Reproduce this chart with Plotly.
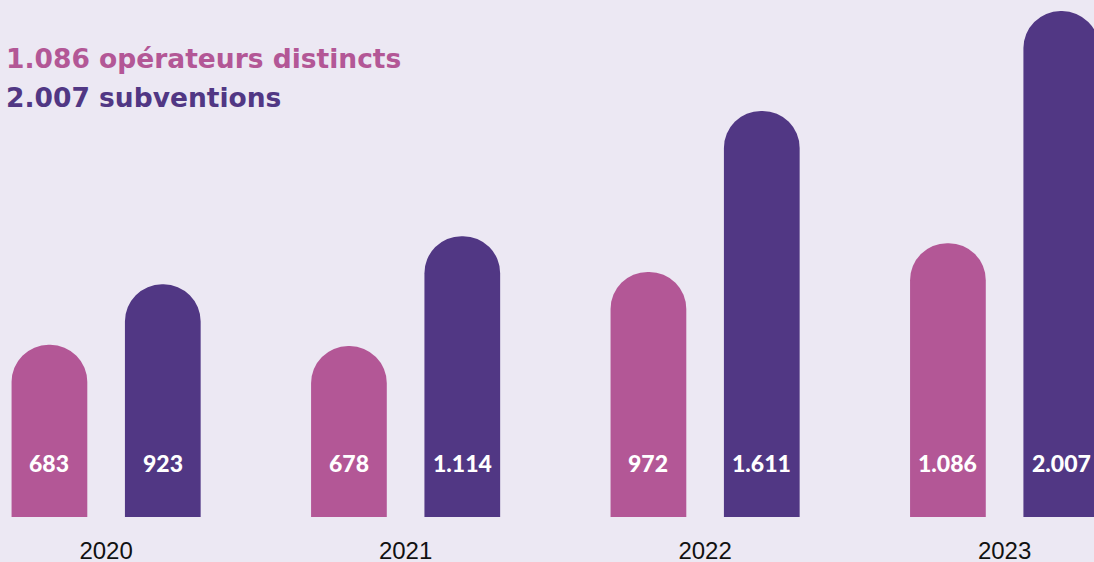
import plotly.graph_objects as go

years = ["2020", "2021", "2022", "2023"]
operateurs = [683, 678, 972, 1086]
subventions = [923, 1114, 1611, 2007]
operateurs_labels = ["683", "678", "972", "1.086"]
subventions_labels = ["923", "1.114", "1.611", "2.007"]
title_line1 = "1.086 opérateurs distincts"
title_line2 = "2.007 subventions"

PINK = "#B35796"
PURPLE = "#513784"
BG = "#ECE8F3"

fig = go.Figure()
fig.add_trace(go.Bar(x=years, y=operateurs, name="opérateurs",
                     marker=dict(color=PINK, line=dict(width=0), cornerradius="50%"),
                     hoverinfo="skip"))
fig.add_trace(go.Bar(x=years, y=subventions, name="subventions",
                     marker=dict(color=PURPLE, line=dict(width=0), cornerradius="50%"),
                     hoverinfo="skip"))

label_font = dict(family="Lato", size=23, color="white", weight=900)
annotations = []
for i, lab in enumerate(operateurs_labels):
    annotations.append(dict(x=i, y=0, xref="x", yref="y", text=lab, showarrow=False,
                            xshift=-56.7, yshift=54, yanchor="middle", font=label_font))
for i, lab in enumerate(subventions_labels):
    annotations.append(dict(x=i, y=0, xref="x", yref="y", text=lab, showarrow=False,
                            xshift=56.7, yshift=54, yanchor="middle", font=label_font))
annotations.append(dict(x=0, y=1 - 58.5 / 517, xref="paper", yref="paper", text=title_line1,
                        showarrow=False, xanchor="left", yanchor="middle", xshift=4,
                        font=dict(family="DejaVu Sans", size=26.5, color=PINK, weight=700)))
annotations.append(dict(x=0, y=1 - 97.5 / 517, xref="paper", yref="paper", text=title_line2,
                        showarrow=False, xanchor="left", yanchor="middle", xshift=4,
                        font=dict(family="DejaVu Sans", size=26.5, color=PURPLE, weight=700)))

fig.update_layout(
    width=1094, height=562,
    margin=dict(l=0, r=0, t=0, b=45),
    paper_bgcolor=BG, plot_bgcolor=BG,
    barmode="group", bargap=0.243, bargroupgap=0.332,
    showlegend=False,
    annotations=annotations,
    xaxis=dict(type="category", range=[-0.3543, 3.2985], showgrid=False, zeroline=False,
               showline=False, ticks="", ticklabelstandoff=17, automargin=False,
               tickfont=dict(family="Liberation Sans", size=24, color="#111111")),
    yaxis=dict(range=[0, 2051], visible=False, showgrid=False, zeroline=False,
               automargin=False),
)

fig.write_html("out.html", config={"displayModeBar": False},
               post_script="document.body.style.margin='0';document.body.style.overflow='hidden';")
